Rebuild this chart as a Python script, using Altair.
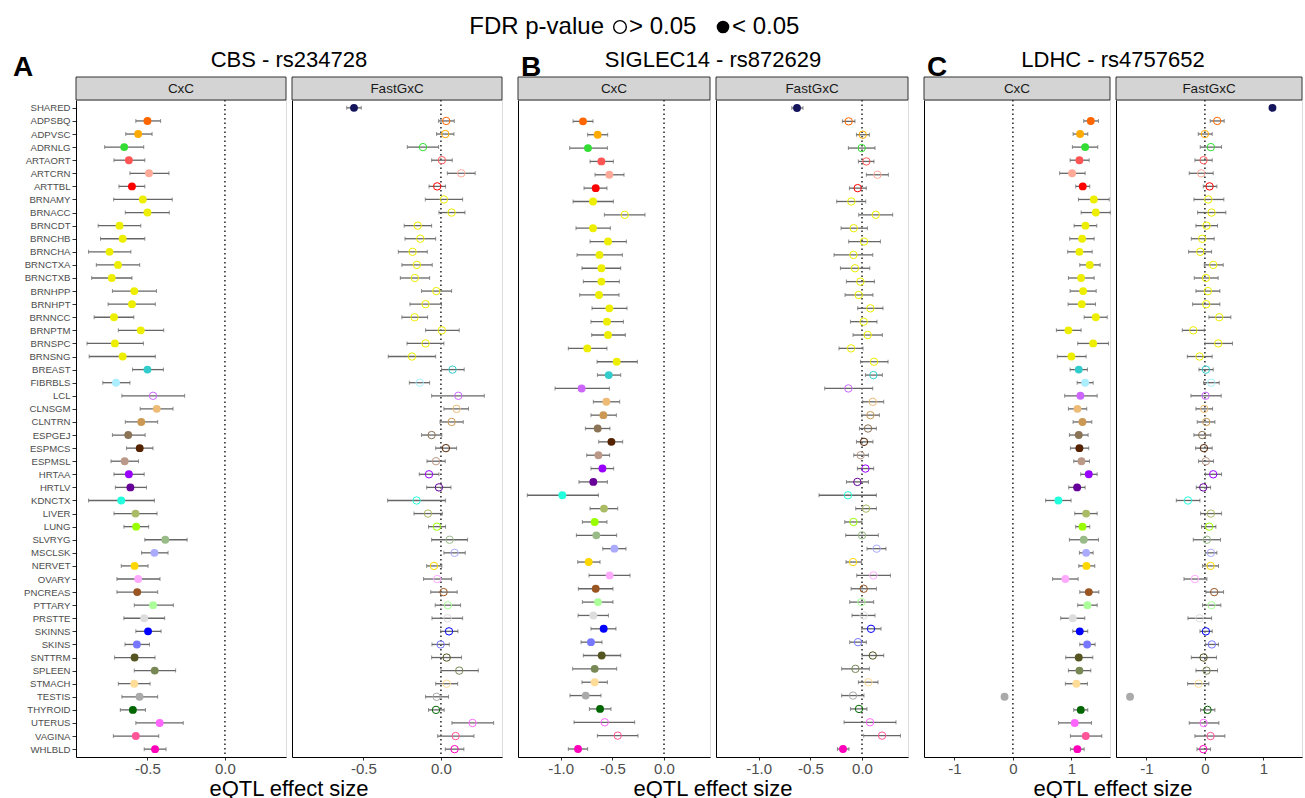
import altair as alt
import pandas as pd

TISSUES = ["SHARED", "ADPSBQ", "ADPVSC", "ADRNLG", "ARTAORT", "ARTCRN", "ARTTBL",
           "BRNAMY", "BRNACC", "BRNCDT", "BRNCHB", "BRNCHA", "BRNCTXA", "BRNCTXB",
           "BRNHPP", "BRNHPT", "BRNNCC", "BRNPTM", "BRNSPC", "BRNSNG", "BREAST",
           "FIBRBLS", "LCL", "CLNSGM", "CLNTRN", "ESPGEJ", "ESPMCS", "ESPMSL",
           "HRTAA", "HRTLV", "KDNCTX", "LIVER", "LUNG", "SLVRYG", "MSCLSK", "NERVET",
           "OVARY", "PNCREAS", "PTTARY", "PRSTTE", "SKINNS", "SKINS", "SNTTRM",
           "SPLEEN", "STMACH", "TESTIS", "THYROID", "UTERUS", "VAGINA", "WHLBLD"]

COLORS = ["#15155C", "#FF6600", "#FFAA00", "#33DD33", "#FF5555", "#FFAA99", "#FF0000",
          "#EEEE00", "#EEEE00", "#EEEE00", "#EEEE00", "#EEEE00", "#EEEE00", "#EEEE00",
          "#EEEE00", "#EEEE00", "#EEEE00", "#EEEE00", "#EEEE00", "#EEEE00", "#33CCCC",
          "#AAEEFF", "#CC66FF", "#EEBB77", "#CC9955", "#8B7355", "#552200", "#BB9988",
          "#9900FF", "#660099", "#22FFDD", "#AABB66", "#99FF00", "#99BB88", "#AAAAFF", "#FFD700",
          "#FFAAFF", "#995522", "#AAFF99", "#DDDDDD", "#0000FF", "#7777FF", "#555522",
          "#778855", "#FFDD99", "#AAAAAA", "#006600", "#FF66FF", "#FF5599", "#FF00BB"]

# ---------------- A: CBS - rs234728 ----------------
A_CXC_EST = [None, -0.50, -0.56, -0.65, -0.62, -0.49, -0.60, -0.53, -0.50, -0.68, -0.66, -0.745, -0.69, -0.73,
             -0.585, -0.60, -0.716, -0.543, -0.71, -0.66, -0.50, -0.703, -0.464, -0.44, -0.54, -0.624, -0.55,
             -0.647, -0.62, -0.61, -0.669, -0.577, -0.573, -0.385, -0.455, -0.583, -0.56, -0.566, -0.464,
             -0.521, -0.496, -0.568, -0.583, -0.453, -0.585, -0.551, -0.594, -0.421, -0.575, -0.451]
A_CXC_LO = [None, -0.575, -0.64, -0.776, -0.716, -0.613, -0.684, -0.718, -0.643, -0.818, -0.803, -0.88, -0.83,
            -0.86, -0.726, -0.754, -0.844, -0.688, -0.89, -0.876, -0.596, -0.788, -0.665, -0.547, -0.643,
            -0.726, -0.635, -0.735, -0.716, -0.707, -0.88, -0.716, -0.652, -0.517, -0.538, -0.669, -0.697,
            -0.697, -0.585, -0.652, -0.575, -0.645, -0.712, -0.585, -0.688, -0.665, -0.675, -0.575, -0.72, -0.521]
A_CXC_HI = [None, -0.415, -0.47, -0.524, -0.517, -0.361, -0.517, -0.34, -0.359, -0.543, -0.517, -0.607, -0.55,
            -0.60, -0.442, -0.449, -0.588, -0.395, -0.526, -0.449, -0.397, -0.613, -0.26, -0.335, -0.434,
            -0.515, -0.464, -0.558, -0.521, -0.506, -0.455, -0.438, -0.492, -0.244, -0.367, -0.496, -0.419,
            -0.434, -0.333, -0.389, -0.412, -0.487, -0.451, -0.318, -0.483, -0.434, -0.513, -0.269, -0.427, -0.38]
A_CXC_SIG = [None] + [1] * 21 + [0] + [1] * 27

A_FAST_EST = [-0.561, 0.034, 0.028, -0.116, 0.006, 0.131, -0.024, 0.019, 0.069, -0.15, -0.133, -0.183, -0.155,
              -0.168, -0.03, -0.099, -0.17, 0.006, -0.099, -0.187, 0.075, -0.137, 0.112, 0.101, 0.069, -0.06,
              0.032, -0.032, -0.077, -0.013, -0.157, -0.084, -0.026, 0.056, 0.088, -0.045, -0.024, 0.017, 0.045,
              0.043, 0.052, -0.002, 0.037, 0.118, 0.037, -0.028, -0.032, 0.204, 0.095, 0.088]
A_FAST_LO = [-0.608, -0.015, -0.028, -0.217, -0.06, 0.041, -0.077, -0.101, -0.013, -0.237, -0.232, -0.275,
             -0.252, -0.262, -0.125, -0.2, -0.252, -0.099, -0.219, -0.34, 0.004, -0.204, -0.06, 0.019, -0.006,
             -0.125, -0.034, -0.09, -0.14, -0.092, -0.344, -0.174, -0.08, -0.06, 0.019, -0.092, -0.112, -0.066,
             -0.037, -0.058, -0.002, -0.058, -0.06, 0.0, -0.034, -0.099, -0.08, 0.071, -0.021, 0.028]
A_FAST_HI = [-0.514, 0.086, 0.084, -0.015, 0.073, 0.221, 0.03, 0.14, 0.155, -0.06, -0.034, -0.088, -0.056,
             -0.073, 0.069, 0.004, -0.086, 0.118, 0.019, -0.034, 0.15, -0.073, 0.28, 0.178, 0.144, 0.006, 0.101,
             0.028, -0.013, 0.065, 0.03, 0.009, 0.03, 0.172, 0.157, 0.006, 0.069, 0.105, 0.127, 0.14, 0.11,
             0.054, 0.133, 0.241, 0.108, 0.049, 0.021, 0.34, 0.213, 0.148]
A_FAST_SIG = [1] + [0] * 49

# ---------------- B: SIGLEC14 - rs872629 (no FIBRBLS) ----------------
B_CXC_EST = [None, -0.784, -0.642, -0.736, -0.606, -0.529, -0.661, -0.687, -0.38, -0.687, -0.542, -0.625,
             -0.606, -0.606, -0.629, -0.529, -0.552, -0.542, -0.742, -0.458, -0.535, None, -0.797, -0.558,
             -0.587, -0.642, -0.509, -0.635, -0.596, -0.684, -0.984, -0.581, -0.671, -0.655, -0.48, -0.729,
             -0.526, -0.661, -0.639, -0.684, -0.584, -0.707, -0.603, -0.671, -0.671, -0.758, -0.619, -0.574,
             -0.448, -0.832]
B_CXC_LO = [None, -0.88, -0.739, -0.913, -0.716, -0.668, -0.774, -0.88, -0.577, -0.852, -0.716, -0.842,
            -0.794, -0.781, -0.816, -0.697, -0.707, -0.7, -0.926, -0.648, -0.645, None, -1.055, -0.684, -0.707,
            -0.761, -0.632, -0.748, -0.707, -0.823, -1.323, -0.716, -0.79, -0.848, -0.593, -0.835, -0.726,
            -0.829, -0.79, -0.832, -0.707, -0.803, -0.781, -0.884, -0.794, -0.91, -0.722, -0.871, -0.645, -0.926]
B_CXC_HI = [None, -0.687, -0.545, -0.548, -0.49, -0.387, -0.552, -0.49, -0.184, -0.519, -0.364, -0.403,
            -0.419, -0.432, -0.435, -0.358, -0.393, -0.374, -0.552, -0.258, -0.419, None, -0.529, -0.429,
            -0.461, -0.523, -0.4, -0.526, -0.487, -0.548, -0.635, -0.448, -0.552, -0.458, -0.368, -0.619,
            -0.329, -0.494, -0.494, -0.538, -0.465, -0.6, -0.419, -0.458, -0.548, -0.61, -0.513, -0.284,
            -0.252, -0.739]
B_CXC_SIG = [None, 1, 1, 1, 1, 1, 1, 1, 0, 1, 1, 1, 1, 1, 1, 1, 1, 1, 1, 1, 1, None, 1, 1, 1, 1, 1, 1, 1, 1,
             1, 1, 1, 1, 1, 1, 1, 1, 1, 1, 1, 1, 1, 1, 1, 1, 1, 0, 0, 1]

B_FAST_EST = [-0.629, -0.129, 0.007, -0.003, 0.042, 0.149, -0.042, -0.103, 0.133, -0.08, 0.019, -0.083,
              -0.068, -0.016, -0.032, 0.081, 0.016, 0.055, -0.106, 0.116, 0.11, None, -0.132, 0.104, 0.081,
              0.058, 0.019, -0.013, 0.033, -0.045, -0.136, 0.039, -0.083, 0.0, 0.142, -0.087, 0.11, 0.016,
              -0.006, 0.016, 0.087, -0.039, 0.104, -0.064, 0.062, -0.087, -0.029, 0.077, 0.194, -0.184]
B_FAST_LO = [-0.68, -0.19, -0.054, -0.132, -0.035, 0.042, -0.122, -0.245, -0.032, -0.203, -0.129, -0.271,
             -0.209, -0.151, -0.164, -0.042, -0.112, -0.087, -0.223, -0.015, 0.033, None, -0.361, 0.007,
             -0.003, -0.025, -0.054, -0.08, -0.045, -0.151, -0.416, -0.061, -0.167, -0.158, 0.048, -0.155,
             -0.051, -0.106, -0.119, -0.097, -0.003, -0.119, 0.0, -0.197, -0.035, -0.197, -0.112, -0.174,
             0.016, -0.238]
B_FAST_HI = [-0.571, -0.068, 0.071, 0.126, 0.116, 0.255, 0.042, 0.036, 0.297, 0.052, 0.178, 0.104, 0.075,
             0.12, 0.106, 0.203, 0.145, 0.197, 0.01, 0.252, 0.197, None, 0.104, 0.21, 0.168, 0.139, 0.106,
             0.062, 0.113, 0.062, 0.139, 0.139, 0.0, 0.158, 0.232, -0.006, 0.275, 0.139, 0.113, 0.126, 0.184,
             0.042, 0.21, 0.071, 0.155, 0.019, 0.048, 0.329, 0.372, -0.126]
B_FAST_SIG = [1] + [0] * 48 + [1]

# ---------------- C: LDHC - rs4757652 ----------------
C_CXC_EST = [None, 1.331, 1.149, 1.235, 1.137, 1.012, 1.194, 1.383, 1.417, 1.24, 1.183, 1.137, 1.314, 1.166,
             1.2, 1.177, 1.417, 0.949, 1.372, 1.0, 1.126, 1.235, 1.154, 1.103, 1.189, 1.126, 1.137, 1.172,
             1.297, 1.098, 0.777, 1.252, 1.189, 1.211, 1.252, 1.257, 0.897, 1.297, 1.274, 1.023, 1.143, 1.269,
             1.126, 1.137, 1.086, -0.143, 1.16, 1.057, 1.246, 1.103]
C_CXC_LO = [None, 1.211, 1.029, 1.017, 0.978, 0.799, 1.074, 1.12, 1.166, 1.046, 0.971, 0.937, 1.143, 0.949,
            0.978, 0.943, 1.218, 0.743, 1.108, 0.76, 0.978, 1.098, 0.885, 0.949, 1.029, 0.966, 0.983, 1.04,
            1.159, 0.954, 0.559, 1.057, 1.074, 0.966, 1.137, 1.126, 0.679, 1.143, 1.108, 0.817, 1.023, 1.143,
            0.903, 0.949, 0.897, -0.155, 1.04, 0.782, 0.983, 0.983]
C_CXC_HI = [None, 1.463, 1.28, 1.451, 1.304, 1.235, 1.314, 1.647, 1.664, 1.434, 1.389, 1.355, 1.492, 1.389,
            1.424, 1.412, 1.612, 1.166, 1.635, 1.252, 1.274, 1.372, 1.441, 1.263, 1.349, 1.286, 1.297, 1.309,
            1.441, 1.235, 0.995, 1.441, 1.314, 1.463, 1.372, 1.4, 1.115, 1.469, 1.441, 1.229, 1.28, 1.406,
            1.366, 1.332, 1.274, -0.131, 1.28, 1.343, 1.52, 1.218]
C_CXC_SIG = [None] + [1] * 49

C_FAST_EST = [1.155, 0.21, 0.0, 0.102, -0.023, -0.063, 0.08, 0.057, 0.114, 0.028, -0.046, -0.08, 0.142, 0.017,
              0.051, 0.023, 0.245, -0.199, 0.228, -0.091, 0.017, 0.108, 0.011, -0.011, 0.023, -0.046, -0.017,
              0.017, 0.142, -0.028, -0.29, 0.102, 0.074, 0.034, 0.102, 0.097, -0.171, 0.159, 0.114, -0.091,
              0.017, 0.119, -0.023, 0.028, -0.108, -1.28, 0.045, -0.023, 0.097, -0.028]
C_FAST_LO = [1.143, 0.09, -0.114, -0.08, -0.171, -0.268, -0.028, -0.188, -0.125, -0.154, -0.233, -0.279,
             -0.011, -0.182, -0.154, -0.21, 0.068, -0.387, 0.0, -0.301, -0.102, -0.023, -0.239, -0.154, -0.131,
             -0.188, -0.159, -0.108, 0.011, -0.148, -0.489, -0.074, -0.057, -0.199, 0.006, -0.04, -0.358,
             0.017, -0.04, -0.29, -0.085, 0.011, -0.233, -0.154, -0.296, -1.292, -0.074, -0.268, -0.171, -0.136]
C_FAST_HI = [1.167, 0.33, 0.125, 0.285, 0.125, 0.142, 0.205, 0.324, 0.358, 0.216, 0.159, 0.114, 0.313, 0.227,
             0.256, 0.256, 0.444, -0.011, 0.472, 0.125, 0.142, 0.245, 0.279, 0.131, 0.171, 0.102, 0.125, 0.148,
             0.285, 0.097, -0.085, 0.285, 0.188, 0.267, 0.205, 0.233, 0.034, 0.319, 0.273, 0.114, 0.125, 0.233,
             0.199, 0.216, 0.068, -1.268, 0.171, 0.239, 0.341, 0.097]
C_FAST_SIG = [1] + [0] * 44 + [1] + [0] * 4

GROUP_TITLES = ["CBS - rs234728", "SIGLEC14 - rs872629", "LDHC - rs4757652"]
GROUP_LETTERS = ["A", "B", "C"]
STRIPS = ["CxC", "FastGxC"]
X_TITLE = "eQTL effect size"
LEGEND_TITLE = "FDR p-value"
LEGEND_LABELS = ["> 0.05", "< 0.05"]

FONT = "Liberation Sans"
H = 657
STRIP_H = 23


def txt(text, x, y, size, weight="normal", align="center", baseline="middle", color="black"):
    return alt.Chart(alt.Data(values=[{"t": text}])).mark_text(
        font=FONT, fontSize=size, fontWeight=weight, align=align, baseline=baseline, color=color
    ).encode(x=alt.value(x), y=alt.value(y), text="t:N")


def key(x, y, filled):
    return alt.Chart(alt.Data(values=[{"k": 0}])).mark_point(
        shape="circle", filled=filled, size=160, strokeWidth=1.4, color="black", opacity=1
    ).encode(x=alt.value(x), y=alt.value(y))


def panel(est, lo, hi, sig, strip, xdom, ticks, fmt, width, ydom, show_y, extras=()):
    rows = [dict(tissue=t, est=e, lo=l, hi=h_, sig=s)
            for t, e, l, h_, s in zip(TISSUES, est, lo, hi, sig) if e is not None]
    df = pd.DataFrame(rows)
    xs = alt.Scale(domain=xdom, nice=False, zero=False)
    xa = alt.Axis(title=None, values=ticks, grid=False, labelFontSize=15, labelColor="#4d4d4d",
                  labelFont=FONT, tickSize=3, tickColor="#333333", domainColor="black",
                  labelPadding=1, labelFlush=False,
                  labelExpr="replace(format(datum.value, '%s'), '\u2212', '-')" % fmt)
    if show_y:
        ya = alt.Axis(title=None, labelFontSize=9.6, labelColor="#4d4d4d", labelFont=FONT, tickSize=4,
                      tickColor="#333333", domainColor="black", labelPadding=2, grid=False)
    else:
        ya = alt.Axis(title=None, labels=False, ticks=False, domainColor="black", grid=False)
    ys = alt.Scale(domain=ydom, type="point", padding=0.6)
    Y = alt.Y("tissue:N", scale=ys, axis=ya)
    col = alt.Color("tissue:N", scale=alt.Scale(domain=TISSUES, range=COLORS), legend=None)

    zero = alt.Chart(alt.Data(values=[{"v": 0}])).mark_rule(
        color="black", strokeDash=[1.5, 3], strokeWidth=1.3
    ).encode(x=alt.X("v:Q", scale=xs, axis=xa))
    base = alt.Chart(df)
    bars = base.mark_rule(color="#666666", strokeWidth=1.3).encode(
        x=alt.X("lo:Q", scale=xs, axis=xa), x2="hi:Q", y=Y)
    caps = base.transform_fold(["lo", "hi"], as_=["k", "xv"]).mark_tick(
        color="#666666", size=4, thickness=1).encode(x=alt.X("xv:Q", scale=xs, axis=xa), y=Y)
    opn = base.transform_filter("datum.sig == 0").mark_point(
        shape="circle", filled=False, size=55, strokeWidth=1, opacity=1).encode(
        x=alt.X("est:Q", scale=xs, axis=xa), y=Y, color=col)
    fil = base.transform_filter("datum.sig == 1").mark_circle(size=62, opacity=1).encode(
        x=alt.X("est:Q", scale=xs, axis=xa), y=Y, color=col)
    strip_rect = alt.Chart(alt.Data(values=[{"s": strip}])).mark_rect(
        fill="#D4D4D4", stroke="#333333", strokeWidth=1).encode(
        x=alt.value(0), x2=alt.value(width), y=alt.value(-STRIP_H), y2=alt.value(0))
    strip_txt = txt(strip, width / 2, -STRIP_H / 2, 13.5, color="#1a1a1a")
    layers = [zero, bars, caps, opn, fil, strip_rect, strip_txt] + list(extras)
    return alt.layer(*layers).properties(width=width, height=H)


def spacer(w):
    return alt.Chart(alt.Data(values=[{"s": 0}])).mark_point(opacity=0).encode(
        x=alt.value(0), y=alt.value(0)
    ).properties(width=w, height=H, view=alt.ViewBackground(strokeOpacity=0))


YD_ALL = TISSUES
YD_B = [t for t in TISSUES if t != "FIBRBLS"]

WA, WB, WC = 210, 192, 186
XA = [-0.961, 0.394]
XB = [-1.413, 0.445]
XC = [-1.52, 1.66]


def group_extras(i, w):
    out = [
        txt(GROUP_TITLES[i], w + 3, -40, 22),
        txt(X_TITLE, w + 3, H + 38.5, 22, baseline="alphabetic"),
    ]
    lx = -53 if i == 0 else 13
    out.append(txt(GROUP_LETTERS[i], lx, -32, 28, weight="bold"))
    if i == 1:
        # legend header, positions relative to panel B-CxC origin (x=517, y=98)
        ly = -73
        out.append(txt(LEGEND_TITLE, 86, ly, 24, align="right"))
        out.append(key(102, ly, False))
        out.append(txt(LEGEND_LABELS[0], 111, ly, 24, align="left"))
        out.append(key(205, ly, True))
        out.append(txt(LEGEND_LABELS[1], 214, ly, 24, align="left"))
    return out


pA1 = panel(A_CXC_EST, A_CXC_LO, A_CXC_HI, A_CXC_SIG, STRIPS[0], XA, [-0.5, 0.0], ".1f", WA, YD_ALL, True,
            group_extras(0, WA))
pA2 = panel(A_FAST_EST, A_FAST_LO, A_FAST_HI, A_FAST_SIG, STRIPS[1], XA, [-0.5, 0.0], ".1f", WA, YD_ALL, False)
pB1 = panel(B_CXC_EST, B_CXC_LO, B_CXC_HI, B_CXC_SIG, STRIPS[0], XB, [-1.0, -0.5, 0.0], ".1f", WB, YD_B, False,
            group_extras(1, WB))
pB2 = panel(B_FAST_EST, B_FAST_LO, B_FAST_HI, B_FAST_SIG, STRIPS[1], XB, [-1.0, -0.5, 0.0], ".1f", WB, YD_B, False)
pC1 = panel(C_CXC_EST, C_CXC_LO, C_CXC_HI, C_CXC_SIG, STRIPS[0], XC, [-1, 0, 1], "d", WC, YD_ALL, False,
            group_extras(2, WC))
pC2 = panel(C_FAST_EST, C_FAST_LO, C_FAST_HI, C_FAST_SIG, STRIPS[1], XC, [-1, 0, 1], "d", WC, YD_ALL, False)

chart = alt.hconcat(pA1, pA2, spacer(4), pB1, pB2, spacer(4), pC1, pC2, spacing=6, bounds="flush").properties(
    padding={"left": 12, "top": 14, "right": 0, "bottom": 0},
    background="white",
).configure_view(stroke="#7a7a7a", strokeWidth=1).configure(font=FONT)

chart.save("out.html", embed_options={"renderer": "svg", "actions": False})
